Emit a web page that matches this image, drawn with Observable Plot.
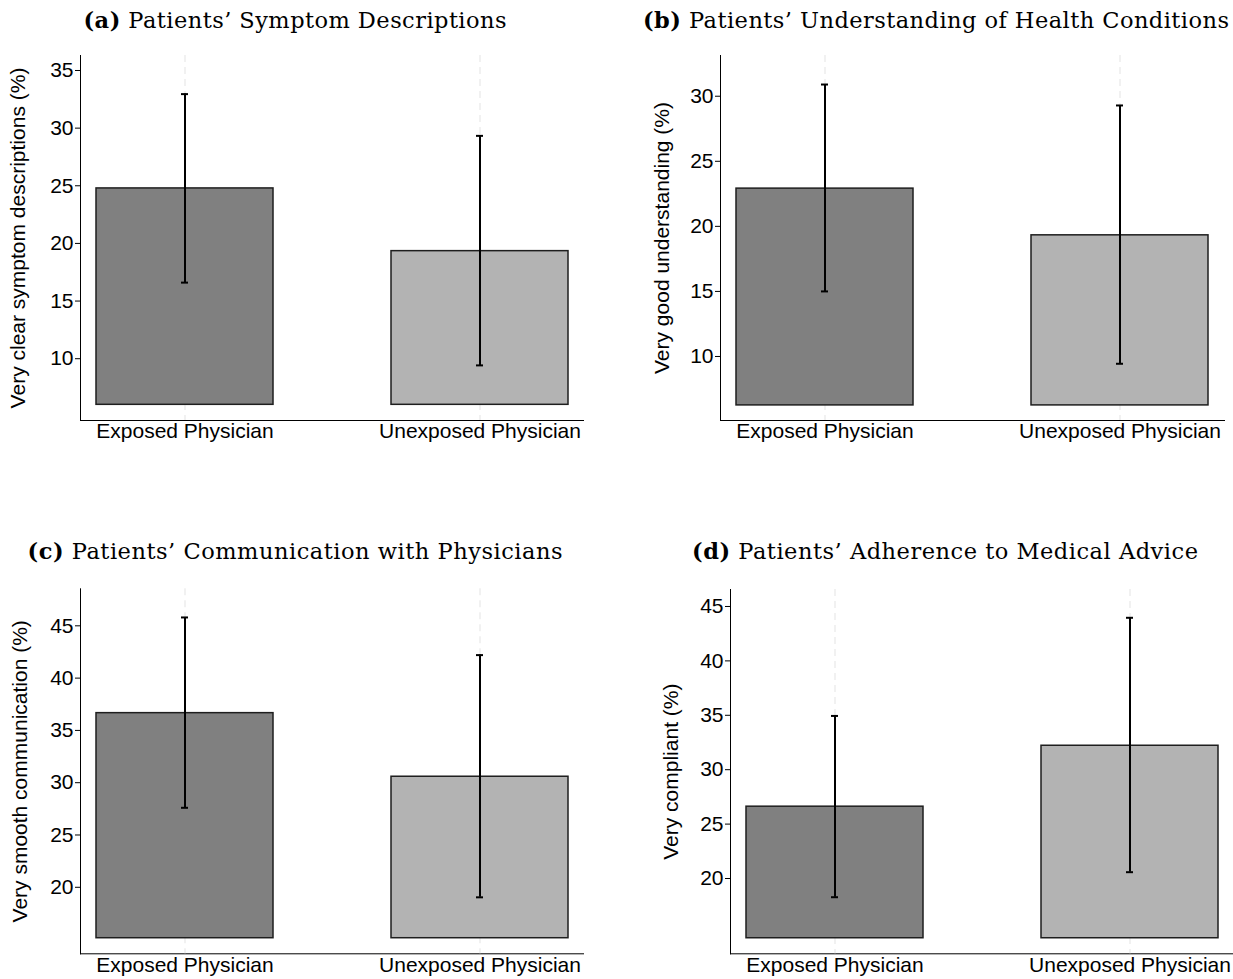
<!DOCTYPE html>
<html>
<head>
<meta charset="utf-8">
<script src="https://cdn.jsdelivr.net/npm/d3@7"></script>
<script src="https://cdn.jsdelivr.net/npm/@observablehq/plot@0.6"></script>
<style>
  html, body { margin: 0; padding: 0; background: #fff; }
  #root { position: relative; width: 1233px; height: 979px; overflow: hidden; background: #fff; }
  .panel { position: absolute; }
  .panel svg { overflow: visible; }
  #titles { position: absolute; left: 0; top: 0; pointer-events: none; }
</style>
</head>
<body>
<div id="root"></div>
<script>
// ---------- data ----------
const categories = ["Exposed Physician", "Unexposed Physician"];
const panelLetters = ["(a)", "(b)", "(c)", "(d)"];
const panelTitles = [
  "Patients’ Symptom Descriptions",
  "Patients’ Understanding of Health Conditions",
  "Patients’ Communication with Physicians",
  "Patients’ Adherence to Medical Advice"
];
const yLabels = [
  "Very clear symptom descriptions (%)",
  "Very good understanding (%)",
  "Very smooth communication (%)",
  "Very compliant (%)"
];
// means (%) for Exposed / Unexposed
const meanA = [24.77, 19.33];
const meanB = [22.9, 19.31];
const meanC = [36.65, 30.57];
const meanD = [26.6, 32.2];
// confidence interval lower / upper
const lowA = [16.6, 9.42],   highA = [32.95, 29.33];
const lowB = [15.0, 9.44],   highB = [30.9, 29.29];
const lowC = [27.6, 19.04],  highC = [45.8, 42.2];
const lowD = [18.28, 20.58], highD = [34.94, 43.96];
// bar base value for each panel
const barBase = [6.0, 6.24, 15.13, 14.51];
// y tick values
const yTicksA = [10, 15, 20, 25, 30, 35];
const yTicksB = [10, 15, 20, 25, 30];
const yTicksC = [20, 25, 30, 35, 40, 45];
const yTicksD = [20, 25, 30, 35, 40, 45];

// ---------- layout ----------
const panels = [
  {mean: meanA, lo: lowA, hi: highA, base: barBase[0], ticks: yTicksA, domain: [4.64, 36.3],
   left: 0, top: 0, w: 600, h: 460, ml: 80, mr: 17, mt: 55, mb: 40, ldx: -62},
  {mean: meanB, lo: lowB, hi: highB, base: barBase[1], ticks: yTicksB, domain: [5.08, 33.13],
   left: 615, top: 0, w: 618, h: 460, ml: 105, mr: 9, mt: 55, mb: 40, ldx: -58},
  {mean: meanC, lo: lowC, hi: highC, base: barBase[2], ticks: yTicksC, domain: [13.64, 48.54],
   left: 0, top: 530, w: 600, h: 449, ml: 80, mr: 17, mt: 58.3, mb: 25.7, ldx: -60},
  {mean: meanD, lo: lowD, hi: highD, base: barBase[3], ticks: yTicksD, domain: [13.08, 46.56],
   left: 615, top: 530, w: 618, h: 449, ml: 115, mr: 0, mt: 59, mb: 25.7, ldx: -59}
];
const titlePos = [
  {cx: 295, y: 28, len: 423},
  {cx: 936, y: 28, len: 586},
  {cx: 295, y: 559, len: 535},
  {cx: 945, y: 559, len: 506}
];

const root = document.getElementById("root");

panels.forEach((p, k) => {
  const rows = categories.map((c, i) => ({cat: c, mean: p.mean[i], lo: p.lo[i], hi: p.hi[i], base: p.base}));
  const capInset = 85;
  const chart = Plot.plot({
    width: p.w,
    height: p.h,
    marginLeft: p.ml,
    marginRight: p.mr,
    marginTop: p.mt,
    marginBottom: p.mb,
    style: {fontFamily: "'Liberation Sans', Arial, sans-serif", fontSize: "21px", color: "#000", background: "transparent"},
    x: {domain: categories, paddingInner: 0.4, paddingOuter: 0.052, label: null, tickSize: 0, tickPadding: 3, line: true},
    y: {domain: p.domain, ticks: p.ticks, tickSize: 5, tickPadding: 2, label: null, line: true},
    color: {domain: categories, range: ["#808080", "#b3b3b3"]},
    marks: [
      Plot.ruleX(categories, {x: d => d, stroke: "#e8e8e8", strokeWidth: 1.2, strokeDasharray: "7,5"}),
      Plot.barY(rows, {x: "cat", y1: "base", y2: "mean", fill: "cat", stroke: "#1e1e1e", strokeWidth: 1.5}),
      Plot.ruleX(rows, {x: "cat", y1: "lo", y2: "hi", stroke: "#000", strokeWidth: 2}),
      Plot.tickY(rows, {x: "cat", y: "lo", stroke: "#000", strokeWidth: 2, insetLeft: capInset, insetRight: capInset}),
      Plot.tickY(rows, {x: "cat", y: "hi", stroke: "#000", strokeWidth: 2, insetLeft: capInset, insetRight: capInset}),
      Plot.text([yLabels[k]], {text: d => d, frameAnchor: "left", textAnchor: "middle", lineAnchor: "middle", rotate: -90, dx: p.ldx, fontSize: 21, fill: "#000"})
    ]
  });
  const div = document.createElement("div");
  div.className = "panel";
  div.style.left = p.left + "px";
  div.style.top = p.top + "px";
  div.appendChild(chart);
  root.appendChild(div);
});

// titles
const tsvg = d3.select(root).append("svg")
  .attr("id", "titles")
  .attr("width", 1233).attr("height", 979);
titlePos.forEach((t, k) => {
  const txt = tsvg.append("text")
    .attr("x", t.cx - t.len / 2)
    .attr("y", t.y)
    .attr("font-family", "'DejaVu Serif', 'Liberation Serif', serif")
    .attr("font-size", 22.5)
    .attr("fill", "#000")
    .attr("textLength", t.len)
    .attr("lengthAdjust", "spacing");
  txt.append("tspan").attr("font-weight", "bold").text(panelLetters[k]);
  txt.append("tspan").text(" " + panelTitles[k]);
});
</script>
</body>
</html>
